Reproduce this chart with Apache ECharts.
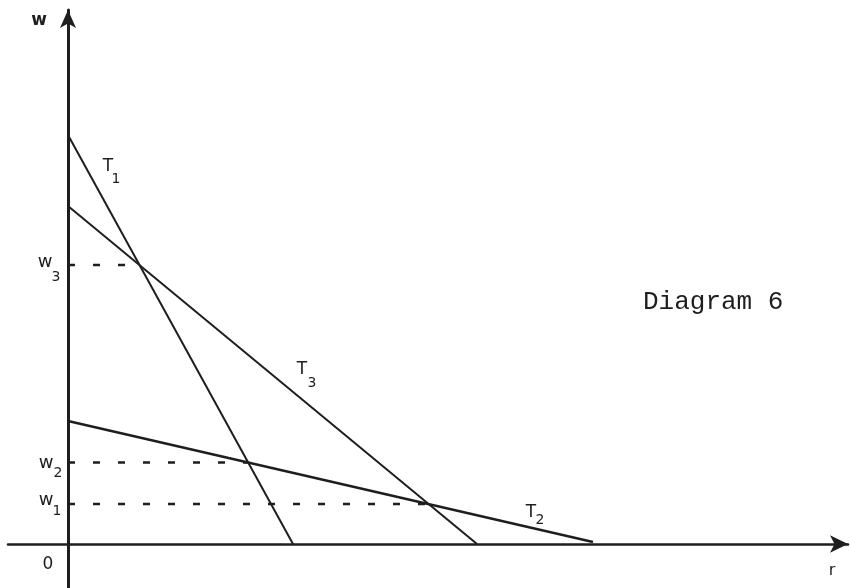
<!DOCTYPE html>
<html>
<head>
<meta charset="utf-8">
<script src="https://cdn.jsdelivr.net/npm/echarts@6/dist/echarts.min.js"></script>
<style>
  html, body { margin: 0; padding: 0; background: #fff; }
  #chart { width: 850px; height: 588px; }
</style>
</head>
<body>
<div id="chart"></div>
<script>
// curves (r, w)
const t1 = [[0, 40.9], [22.5, 0]];
const t3 = [[0, 33.8], [40.9, 0]];
const t2 = [[0, 12.3], [52.5, 0.2]];
// levels of w where the curves cross, and the r of each crossing
const levelNames = ["w3", "w2", "w1"];
const levelW = [27.9, 8.15, 4.0];
const levelR = [7.2, 18.0, 36.1];

const ink = "#1e1e1e";
const chart = echarts.init(document.getElementById("chart"));

const dashed = levelW.map(function (w, i) {
  return {
    type: "line",
    name: levelNames[i],
    data: [[0, w], [levelR[i], w]],
    showSymbol: false,
    silent: true,
    lineStyle: { color: ink, width: 2.5, type: [7, 18] }
  };
});

function solid(name, data, width) {
  return {
    type: "line",
    name: name,
    data: data,
    showSymbol: false,
    silent: true,
    lineStyle: { color: ink, width: width }
  };
}

// text helper, centred at x, y
function txt(s, x, y, size, weight) {
  return {
    type: "text",
    x: x,
    y: y,
    style: {
      text: s,
      fill: ink,
      font: (weight || "normal") + " " + size + "px 'DejaVu Sans'",
      textAlign: "center",
      textVerticalAlign: "middle"
    }
  };
}

chart.setOption({
  animation: false,
  grid: { left: 8, right: 2, top: 10, bottom: 0 },
  xAxis: {
    type: "value",
    min: -6,
    max: 78,
    axisLine: {
      onZero: true,
      symbol: ["none", "arrow"],
      symbolSize: [13, 18],
      lineStyle: { color: ink, width: 2.5 }
    },
    axisTick: { show: false },
    axisLabel: { show: false },
    splitLine: { show: false }
  },
  yAxis: {
    type: "value",
    min: -4.4,
    max: 53.4,
    axisLine: {
      onZero: true,
      symbol: ["none", "arrow"],
      symbolSize: [12, 18],
      lineStyle: { color: ink, width: 3 }
    },
    axisTick: { show: false },
    axisLabel: { show: false },
    splitLine: { show: false }
  },
  series: [
    solid("T1", t1, 2),
    solid("T3", t3, 2),
    solid("T2", t2, 2.5)
  ].concat(dashed),
  graphic: [
    txt("w", 39, 21, 17, "bold"),
    txt("w", 45, 262, 18),
    txt("3", 56, 277, 14),
    txt("w", 46, 463, 18),
    txt("2", 58, 473, 14),
    txt("w", 46, 500, 18),
    txt("1", 57, 511, 14),
    txt("0", 48, 565, 17),
    txt("T", 108, 167, 17),
    txt("1", 116, 179, 14),
    txt("T", 302, 370, 17),
    txt("3", 312, 383, 14),
    txt("T", 531, 513, 17),
    txt("2", 540, 520, 14),
    txt("r", 832, 571, 16),
    {
      type: "text",
      x: 643,
      y: 302,
      style: {
        text: "Diagram 6",
        fill: ink,
        font: "26px 'Liberation Mono'",
        textAlign: "left",
        textVerticalAlign: "middle"
      }
    }
  ]
});
</script>
</body>
</html>
